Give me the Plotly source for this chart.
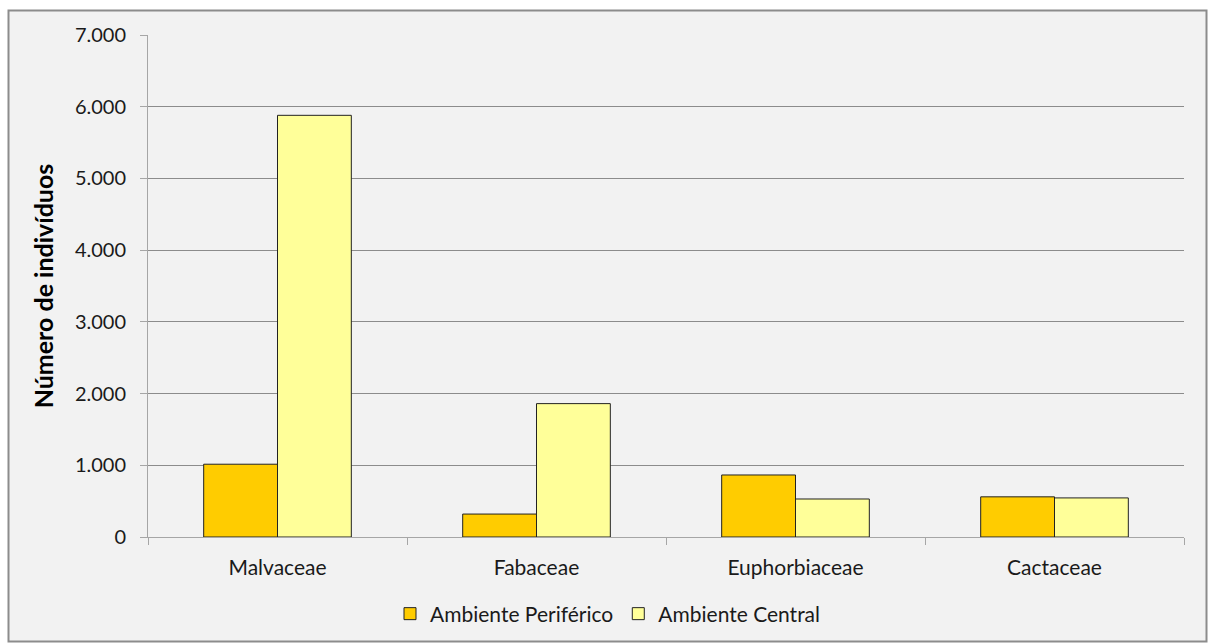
import plotly.graph_objects as go

categories = ["Malvaceae", "Fabaceae", "Euphorbiaceae", "Cactaceae"]
periferico = [1015, 320, 865, 560]
central = [5880, 1860, 530, 545]
series_names = ["Ambiente Periférico", "Ambiente Central"]
y_ticks = [0, 1000, 2000, 3000, 4000, 5000, 6000, 7000]

FONT = "Lato"
W, H = 1208, 643
L, R, T, B = 148, 24, 35, 106
pw, ph = W - L - R, H - T - B

def px_x(p):
    return (p - L) / pw

def px_y(p):
    return (H - B - p) / ph

fig = go.Figure()
fig.add_trace(go.Bar(x=categories, y=periferico, name=series_names[0],
                     marker=dict(color="#FFCC00", line=dict(color="#222222", width=1))))
fig.add_trace(go.Bar(x=categories, y=central, name=series_names[1],
                     marker=dict(color="#FFFF99", line=dict(color="#222222", width=1))))

fig.add_shape(type="rect", xref="paper", yref="paper",
              x0=px_x(8.5), x1=px_x(1206.5), y0=px_y(641.5), y1=px_y(10.5),
              fillcolor="#F2F2F2", line=dict(color="#8C8C8C", width=2), layer="below")

fig.update_layout(
    width=W, height=H,
    margin=dict(l=L, r=R, t=T, b=B, pad=0, autoexpand=False),
    paper_bgcolor="white",
    plot_bgcolor="rgba(0,0,0,0)",
    separators=",.",
    barmode="group",
    bargap=0.43,
    bargroupgap=0,
    font=dict(family=FONT, size=21, color="#1A1A1A"),
    showlegend=True,
    legend=dict(orientation="h", x=px_x(608), xanchor="center", y=px_y(614), yanchor="middle",
                font=dict(family=FONT, size=21, color="#1A1A1A"),
                itemwidth=30, tracegroupgap=0, bgcolor="rgba(0,0,0,0)"),
    xaxis=dict(showline=True, linecolor="#A6A6A6", linewidth=1, automargin=False,
               ticks="outside", tickson="boundaries", ticklen=7, tickcolor="#A6A6A6",
               ticklabelstandoff=12,
               tickfont=dict(family=FONT, size=21, color="#1A1A1A"),
               showgrid=False, zeroline=False),
    yaxis=dict(range=[0, 7000], tickvals=y_ticks, tickformat=",.0f", automargin=False,
               showline=True, linecolor="#A6A6A6", linewidth=1,
               ticks="outside", ticklen=7, tickcolor="#A6A6A6",
               ticklabelstandoff=10,
               showgrid=True, gridcolor="#8C8C8C", gridwidth=1,
               zeroline=False,
               tickfont=dict(family=FONT, size=20, color="#1A1A1A"),
               title=dict(text="<b>Número de indivíduos</b>", standoff=14,
                          font=dict(family=FONT, size=25, color="#000000"))),
)

fig.write_html("out.html")
